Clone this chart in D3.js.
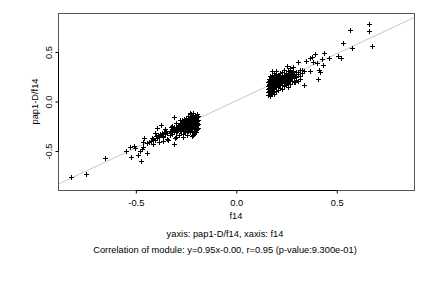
<!DOCTYPE html>
<html>
<head>
<meta charset="utf-8">
<script src="https://cdn.jsdelivr.net/npm/d3@7"></script>
<style>
  html, body { margin: 0; padding: 0; background: #fff; }
  svg { display: block; font-family: "Liberation Sans", Arial, Helvetica, sans-serif; }
</style>
</head>
<body>
<div id="chart"></div>
<script>
// scatter of module eigengene values, f14 vs pap1-D/f14

const xTicks = [-0.5, 0.0, 0.5];
const yTicks = [-0.5, 0.0, 0.5];
const xLabel = 'f14';
const yLabel = 'pap1-D/f14';
const titleLines = [
  'yaxis: pap1-D/f14, xaxis: f14',
  'Correlation of module: y=0.95x-0.00, r=0.95 (p-value:9.300e-01)'
];
const fitSlope = 0.95;
const fitIntercept = 0.0;

// points: [x, y]
const lowCluster = [
  [-0.819, -0.764], [-0.746, -0.737], [-0.653, -0.572], [-0.546, -0.505], [-0.521, -0.562],
  [-0.526, -0.461], [-0.509, -0.455], [-0.501, -0.471], [-0.486, -0.545], [-0.473, -0.606],
  [-0.479, -0.502], [-0.468, -0.488], [-0.463, -0.461], [-0.459, -0.370], [-0.463, -0.411],
  [-0.443, -0.522], [-0.418, -0.370], [-0.410, -0.434], [-0.393, -0.276], [-0.401, -0.327],
  [-0.371, -0.242], [-0.360, -0.360], [-0.352, -0.320], [-0.335, -0.394], [-0.310, -0.438],
  [-0.302, -0.377], [-0.307, -0.165], [-0.323, -0.259], [-0.277, -0.276], [-0.264, -0.360],
  [-0.252, -0.310], [-0.244, -0.343], [-0.227, -0.125], [-0.219, -0.354], [-0.211, -0.343],
  [-0.202, -0.310], [-0.202, -0.192], [-0.194, -0.226], [-0.269, -0.192],
  [-0.19, -0.15], [-0.2, -0.17], [-0.19, -0.19], [-0.2, -0.21], [-0.19, -0.23], [-0.2, -0.25],
  [-0.19, -0.27], [-0.2, -0.29], [-0.21, -0.16], [-0.21, -0.2], [-0.21, -0.24], [-0.21, -0.28],
  [-0.22, -0.14], [-0.22, -0.18], [-0.22, -0.22], [-0.22, -0.26], [-0.22, -0.3], [-0.23, -0.16],
  [-0.23, -0.2], [-0.23, -0.24], [-0.23, -0.28], [-0.24, -0.18], [-0.24, -0.22], [-0.24, -0.26],
  [-0.24, -0.3], [-0.25, -0.2], [-0.25, -0.24], [-0.25, -0.28], [-0.25, -0.17], [-0.26, -0.22],
  [-0.26, -0.26], [-0.26, -0.3], [-0.27, -0.2], [-0.27, -0.24], [-0.27, -0.28], [-0.28, -0.22],
  [-0.28, -0.26], [-0.28, -0.3], [-0.29, -0.25], [-0.29, -0.29], [-0.3, -0.27], [-0.3, -0.31],
  [-0.31, -0.26], [-0.31, -0.3], [-0.32, -0.29], [-0.32, -0.33], [-0.33, -0.3], [-0.33, -0.34],
  [-0.34, -0.32], [-0.35, -0.33], [-0.36, -0.35], [-0.37, -0.34], [-0.38, -0.36], [-0.39, -0.37],
  [-0.4, -0.39], [-0.41, -0.38], [-0.42, -0.4], [-0.2, -0.31], [-0.21, -0.32], [-0.23, -0.31],
  [-0.195, -0.13], [-0.205, -0.14], [-0.215, -0.12], [-0.225, -0.13], [-0.24, -0.15],
  [-0.26, -0.18], [-0.28, -0.19], [-0.3, -0.22], [-0.32, -0.25], [-0.35, -0.28], [-0.265, -0.33],
  [-0.285, -0.34], [-0.3, -0.36], [-0.34, -0.38], [-0.36, -0.4], [-0.38, -0.41],
  [-0.195, -0.16], [-0.205, -0.18], [-0.195, -0.2], [-0.205, -0.22], [-0.195, -0.24],
  [-0.205, -0.26], [-0.195, -0.28], [-0.215, -0.17], [-0.215, -0.21], [-0.215, -0.25],
  [-0.225, -0.19], [-0.225, -0.23], [-0.225, -0.27], [-0.235, -0.17], [-0.235, -0.21],
  [-0.235, -0.25], [-0.235, -0.29], [-0.245, -0.19], [-0.245, -0.23], [-0.245, -0.27],
  [-0.255, -0.21], [-0.255, -0.25], [-0.255, -0.29], [-0.265, -0.23], [-0.265, -0.27],
  [-0.275, -0.22], [-0.275, -0.26], [-0.275, -0.3], [-0.285, -0.24], [-0.285, -0.28],
  [-0.295, -0.26], [-0.295, -0.3], [-0.305, -0.28], [-0.315, -0.28], [-0.325, -0.31],
  [-0.345, -0.3], [-0.355, -0.31], [-0.365, -0.32], [-0.375, -0.33], [-0.385, -0.34],
  [-0.395, -0.35], [-0.43, -0.41], [-0.44, -0.42]
];

const highCluster = [
  [0.665, 0.778], [0.665, 0.707], [0.569, 0.717], [0.677, 0.556], [0.580, 0.539],
  [0.536, 0.586], [0.524, 0.438], [0.507, 0.458], [0.466, 0.438], [0.441, 0.488],
  [0.430, 0.421], [0.436, 0.364], [0.395, 0.475], [0.378, 0.441], [0.367, 0.431],
  [0.350, 0.404], [0.403, 0.387], [0.386, 0.397], [0.416, 0.313], [0.419, 0.296],
  [0.411, 0.222], [0.340, 0.162], [0.312, 0.397], [0.287, 0.347], [0.270, 0.330],
  [0.257, 0.357], [0.312, 0.296], [0.328, 0.313], [0.370, 0.303], [0.320, 0.222],
  [0.294, 0.195], [0.302, 0.246],
  [0.16, 0.06], [0.17, 0.05], [0.18, 0.08], [0.165, 0.09], [0.175, 0.11], [0.16, 0.12],
  [0.185, 0.10], [0.17, 0.14], [0.16, 0.15], [0.18, 0.13], [0.19, 0.12], [0.165, 0.17],
  [0.175, 0.16], [0.185, 0.15], [0.16, 0.19], [0.17, 0.20], [0.18, 0.18], [0.19, 0.17],
  [0.2, 0.16], [0.165, 0.22], [0.175, 0.23], [0.185, 0.21], [0.195, 0.19], [0.2, 0.2],
  [0.21, 0.18], [0.17, 0.25], [0.18, 0.26], [0.19, 0.24], [0.2, 0.22], [0.21, 0.21],
  [0.22, 0.2], [0.2, 0.14], [0.21, 0.15], [0.22, 0.17], [0.23, 0.16], [0.22, 0.13],
  [0.24, 0.15], [0.23, 0.19], [0.24, 0.21], [0.25, 0.2], [0.26, 0.18], [0.25, 0.23],
  [0.26, 0.24], [0.27, 0.22], [0.28, 0.2], [0.27, 0.26], [0.28, 0.25], [0.29, 0.23],
  [0.3, 0.24], [0.28, 0.28], [0.29, 0.27], [0.3, 0.29], [0.31, 0.27], [0.21, 0.24],
  [0.22, 0.25], [0.23, 0.23], [0.24, 0.26], [0.2, 0.27], [0.19, 0.28], [0.18, 0.3],
  [0.22, 0.28], [0.25, 0.28], [0.26, 0.3], [0.24, 0.31], [0.27, 0.31], [0.23, 0.12],
  [0.19, 0.07], [0.2, 0.1], [0.21, 0.11], [0.25, 0.16], [0.27, 0.17], [0.26, 0.14],
  [0.29, 0.19], [0.3, 0.21], [0.31, 0.2], [0.32, 0.25], [0.33, 0.28], [0.32, 0.31],
  [0.34, 0.3], [0.175, 0.19], [0.185, 0.22], [0.195, 0.25], [0.205, 0.23], [0.215, 0.26],
  [0.235, 0.24], [0.245, 0.23], [0.255, 0.26], [0.265, 0.27], [0.275, 0.28], [0.285, 0.3],
  [0.215, 0.19], [0.225, 0.21], [0.235, 0.2], [0.245, 0.18], [0.255, 0.19], [0.165, 0.13],
  [0.175, 0.07], [0.2, 0.3], [0.23, 0.29],
  [0.165, 0.1], [0.175, 0.14], [0.165, 0.16], [0.175, 0.18], [0.165, 0.2], [0.175, 0.22],
  [0.185, 0.12], [0.185, 0.17], [0.185, 0.19], [0.185, 0.24], [0.195, 0.14], [0.195, 0.16],
  [0.195, 0.21], [0.195, 0.23], [0.205, 0.17], [0.205, 0.19], [0.205, 0.21], [0.205, 0.25],
  [0.215, 0.16], [0.215, 0.22], [0.225, 0.18], [0.225, 0.23], [0.235, 0.22], [0.245, 0.2],
  [0.245, 0.25], [0.255, 0.22], [0.265, 0.21], [0.265, 0.25], [0.275, 0.24], [0.285, 0.26],
  [0.295, 0.25], [0.17, 0.08], [0.18, 0.1], [0.19, 0.09], [0.16, 0.09], [0.17, 0.12]
];

const width = 432, height = 288;
const margin = { top: 13, right: 18, bottom: 98, left: 58 };
const innerW = width - margin.left - margin.right;
const innerH = height - margin.top - margin.bottom;
const fontSize = 9.3;

const svg = d3.select('#chart').append('svg')
  .attr('width', width)
  .attr('height', height);

svg.append('rect')
  .attr('width', width)
  .attr('height', height)
  .attr('fill', '#fff');

const g = svg.append('g')
  .attr('transform', `translate(${margin.left},${margin.top})`);

const x = d3.scaleLinear().domain([-0.885, 0.887]).range([0, innerW]);
const y = d3.scaleLinear().domain([-0.899, 0.889]).range([innerH, 0]);

// clip for the fit line
svg.append('defs').append('clipPath')
  .attr('id', 'plot-clip')
  .append('rect')
  .attr('width', innerW)
  .attr('height', innerH);

// fit line
const [x0, x1] = x.domain();
g.append('line')
  .attr('clip-path', 'url(#plot-clip)')
  .attr('x1', x(x0))
  .attr('y1', y(fitSlope * x0 + fitIntercept))
  .attr('x2', x(x1))
  .attr('y2', y(fitSlope * x1 + fitIntercept))
  .attr('stroke', '#c8c8c8')
  .attr('stroke-width', 1);

// plus markers
const allPoints = lowCluster.concat(highCluster);
const s = 2.5;
g.append('g')
  .selectAll('path')
  .data(allPoints)
  .join('path')
  .attr('d', d => {
    const px = Math.round(x(d[0])) + 0.5, py = Math.round(y(d[1])) + 0.5;
    return `M${px - s},${py}H${px + s}M${px},${py - s}V${py + s}`;
  })
  .attr('stroke', '#000')
  .attr('stroke-width', 1)
  .attr('fill', 'none');

// box
g.append('rect')
  .attr('x', 0.5)
  .attr('y', 0.5)
  .attr('width', innerW)
  .attr('height', innerH)
  .attr('fill', 'none')
  .attr('stroke', '#555')
  .attr('stroke-width', 1);

// x axis, R style: line only between first and last tick
const xAxis = g.append('g')
  .attr('transform', `translate(0.5,${innerH + 0.5})`)
  .call(d3.axisBottom(x).tickValues(xTicks).tickSize(3).tickSizeOuter(0)
    .tickFormat(d => d.toFixed(1)));
xAxis.select('.domain')
  .attr('d', `M${x(xTicks[0])},0H${x(xTicks[xTicks.length - 1])}`);
xAxis.selectAll('text')
  .attr('y', 9)
  .attr('font-size', fontSize)
  .attr('font-family', '"Liberation Sans", Arial, sans-serif');

const yAxis = g.append('g')
  .attr('transform', 'translate(0.5,0.5)')
  .call(d3.axisLeft(y).tickValues(yTicks).tickSize(3).tickSizeOuter(0)
    .tickFormat(d => d.toFixed(1)));
yAxis.select('.domain')
  .attr('d', `M0,${y(yTicks[0])}V${y(yTicks[yTicks.length - 1])}`);
yAxis.selectAll('text')
  .attr('transform', 'rotate(-90)')
  .attr('x', 0)
  .attr('y', -7)
  .attr('dy', 0)
  .attr('text-anchor', 'middle')
  .attr('font-size', fontSize)
  .attr('font-family', '"Liberation Sans", Arial, sans-serif');

// axis titles
g.append('text')
  .attr('x', innerW / 2)
  .attr('y', innerH + 29)
  .attr('text-anchor', 'middle')
  .attr('font-size', fontSize)
  .attr('fill', '#000')
  .text(xLabel);

g.append('text')
  .attr('transform', `translate(-20,${innerH / 2}) rotate(-90)`)
  .attr('text-anchor', 'middle')
  .attr('font-size', fontSize)
  .attr('fill', '#000')
  .text(yLabel);

// caption lines under the plot
svg.selectAll('.caption')
  .data(titleLines)
  .join('text')
  .attr('class', 'caption')
  .attr('x', 225)
  .attr('y', (d, i) => 236.5 + i * 16)
  .attr('text-anchor', 'middle')
  .attr('font-size', fontSize)
  .attr('fill', '#000')
  .text(d => d);
</script>
</body>
</html>
